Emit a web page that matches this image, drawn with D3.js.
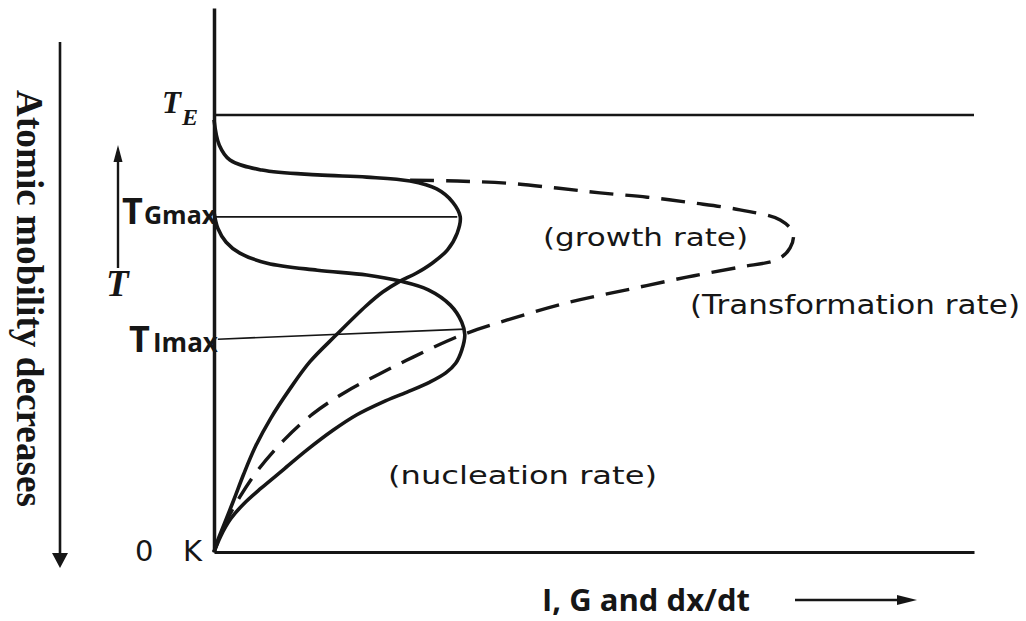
<!DOCTYPE html>
<html>
<head>
<meta charset="utf-8">
<script src="https://cdn.jsdelivr.net/npm/d3@7"></script>
<style>
  html, body { margin: 0; padding: 0; background: #fff; }
  svg { display: block; }
</style>
</head>
<body>
<svg id="chart" width="1026" height="621"></svg>
<script>
// Rates (arbitrary units, 0–100) against temperature (% of T_E, 0 K = 0)
const growthRate = [0, 0.7, 2.1, 6.3, 13.6, 20.1, 25.8, 29.3, 31.4, 32.4, 32.0, 30.7, 28.7, 26.6, 24.5, 22.2, 20.0, 16.1, 12.6, 9.9, 7.5, 5.5, 3.9, 2.6, 1.3, 0.5, 0];
const growthTemp = [98.9, 93.1, 89.7, 87.4, 86.3, 85.8, 84.9, 83.1, 80.1, 76.7, 73.0, 69.1, 66.1, 63.8, 62.0, 59.5, 56.3, 49.7, 43.5, 37.1, 30.7, 24.3, 17.8, 11.9, 6.2, 2.7, 0];

const nucleationRate = [0, 0.5, 1.6, 3.4, 7.0, 13.6, 20.1, 24.5, 28.2, 31.1, 32.6, 33.0, 32.6, 31.8, 30.5, 28.4, 25.4, 22.2, 18.8, 15.7, 12.2, 9.1, 6.2, 3.9, 2.2, 0.9, 0];
const nucleationTemp = [77.8, 74.1, 70.9, 68.4, 66.1, 64.5, 63.4, 62.0, 60.0, 56.5, 52.6, 49.7, 46.2, 43.2, 41.0, 38.9, 36.6, 34.3, 31.4, 27.9, 23.3, 18.8, 14.6, 11.0, 7.6, 3.7, 0];

const transformRate = [25.8, 32.0, 38.6, 45.1, 50.8, 57.0, 63.0, 69.2, 74.5, 76.2, 75.8, 74.2, 69.2, 62.2, 54.3, 46.4, 38.6, 33.3, 30.7, 26.2, 21.7, 17.1, 13.0, 9.2, 5.8, 3.4, 1.6, 0];
const transformTemp = [85.1, 84.9, 84.4, 83.3, 82.2, 81.2, 79.9, 78.3, 76.0, 73.0, 69.6, 67.0, 65.2, 62.9, 60.0, 57.0, 53.1, 50.1, 48.3, 44.6, 40.7, 36.4, 31.6, 25.6, 18.8, 12.6, 6.9, 0];

// Reference temperatures
const tEquilibrium = 100;
const tGmax = 76.7;
const tImaxRate = [0.5, 33.0];
const tImaxTemp = [48.7, 51.0];

// Curve labels
const curveLabels = ["(growth rate)", "(Transformation rate)", "(nucleation rate)"];

const ink = "#161616";
const svg = d3.select("#chart");

const x = d3.scaleLinear().domain([0, 100]).range([214, 974]);
const y = d3.scaleLinear().domain([0, 124.5]).range([552, 8]);

const zip = (a, b) => a.map((v, i) => [v, b[i]]);
const line = d3.line()
  .x(d => x(d[0]))
  .y(d => y(d[1]))
  .curve(d3.curveCatmullRom.alpha(0.5));

// Axes (no ticks, just the frame lines)
const xAxis = svg.append("g")
  .attr("transform", `translate(0,${y(0)})`)
  .call(d3.axisBottom(x).tickValues([]).tickSizeOuter(0));
const yAxis = svg.append("g")
  .attr("transform", `translate(${x(0)},0)`)
  .call(d3.axisLeft(y).tickValues([]).tickSizeOuter(0));
xAxis.select(".domain").attr("stroke", ink).attr("stroke-width", 3);
yAxis.select(".domain").attr("stroke", ink).attr("stroke-width", 3.5);

// T_E line
svg.append("line")
  .attr("x1", x(0)).attr("x2", x(100))
  .attr("y1", y(tEquilibrium)).attr("y2", y(tEquilibrium))
  .attr("stroke", ink).attr("stroke-width", 2.5);

// Thin reference lines to the maxima
svg.append("line")
  .attr("x1", x(0)).attr("x2", x(d3.max(growthRate)) - 3)
  .attr("y1", y(tGmax)).attr("y2", y(tGmax))
  .attr("stroke", ink).attr("stroke-width", 1.6);
svg.append("line")
  .attr("x1", x(tImaxRate[0])).attr("x2", x(tImaxRate[1]))
  .attr("y1", y(tImaxTemp[0])).attr("y2", y(tImaxTemp[1]))
  .attr("stroke", ink).attr("stroke-width", 1.6);

// Curves
svg.append("path")
  .attr("d", line(zip(growthRate, growthTemp)))
  .attr("fill", "none").attr("stroke", ink).attr("stroke-width", 3.6)
  .attr("stroke-linejoin", "round");
svg.append("path")
  .attr("d", line(zip(nucleationRate, nucleationTemp)))
  .attr("fill", "none").attr("stroke", ink).attr("stroke-width", 3.6)
  .attr("stroke-linejoin", "round");
svg.append("path")
  .attr("d", line(zip(transformRate, transformTemp)))
  .attr("fill", "none").attr("stroke", ink).attr("stroke-width", 3.4)
  .attr("stroke-dasharray", "24,12");

// Arrows
function arrow(x1, y1, x2, y2, head, half, width) {
  const ang = Math.atan2(y2 - y1, x2 - x1);
  const bx = x2 - head * Math.cos(ang), by = y2 - head * Math.sin(ang);
  svg.append("line")
    .attr("x1", x1).attr("y1", y1).attr("x2", bx).attr("y2", by)
    .attr("stroke", ink).attr("stroke-width", width);
  const px = -Math.sin(ang) * half, py = Math.cos(ang) * half;
  svg.append("path")
    .attr("d", `M${x2},${y2}L${bx + px},${by + py}L${bx - px},${by - py}Z`)
    .attr("fill", ink);
}
arrow(60, 42, 60, 568, 15, 8, 2.6);
arrow(118, 268, 118, 145, 17, 4.5, 2.4);
arrow(795, 600, 917, 600, 20, 5, 2.4);

// Text
const serif = "'Liberation Serif', 'Times New Roman', serif";
const sans = "'Open Sans', 'Noto Sans', sans-serif";
const plain = "'DejaVu Sans', sans-serif";

svg.append("text")
  .attr("transform", "translate(17,90) rotate(90)")
  .attr("font-family", serif).attr("font-weight", "bold")
  .attr("font-size", 38).attr("fill", ink)
  .attr("textLength", 417).attr("lengthAdjust", "spacingAndGlyphs")
  .text("Atomic mobility decreases");

const te = svg.append("text").attr("font-family", serif)
  .attr("font-style", "italic").attr("font-weight", "bold").attr("fill", ink);
te.append("tspan").attr("x", 162).attr("y", 113).attr("font-size", 31).text("T");
te.append("tspan").attr("x", 182).attr("y", 125).attr("font-size", 24).text("E");

svg.append("text")
  .attr("x", 106).attr("y", 296)
  .attr("font-family", serif).attr("font-style", "italic").attr("font-weight", "bold")
  .attr("font-size", 37).attr("fill", ink).text("T");

const tg = svg.append("text").attr("font-family", sans)
  .attr("font-weight", "bold").attr("fill", ink);
tg.append("tspan").attr("x", 122).attr("y", 224).attr("font-size", 36).text("T");
tg.append("tspan").attr("x", 144).attr("y", 224).attr("font-size", 25).text("Gmax");

const ti = svg.append("text").attr("font-family", sans)
  .attr("font-weight", "bold").attr("fill", ink);
ti.append("tspan").attr("x", 129).attr("y", 352).attr("font-size", 36).text("T");
ti.append("tspan").attr("x", 153).attr("y", 352).attr("font-size", 26).text("Imax");

svg.append("text")
  .attr("x", 135).attr("y", 561)
  .attr("font-family", plain).attr("font-size", 29).attr("fill", ink)
  .attr("textLength", 67).attr("lengthAdjust", "spacing")
  .text("0 K");

svg.append("text")
  .attr("x", 542).attr("y", 611)
  .attr("font-family", sans).attr("font-weight", "bold")
  .attr("font-size", 30).attr("fill", ink)
  .attr("textLength", 208).attr("lengthAdjust", "spacingAndGlyphs")
  .text("I, G and dx/dt");

const labelPos = [
  { x: 543, y: 246, w: 205, s: 24 },
  { x: 690, y: 314, w: 330, s: 26 },
  { x: 388, y: 484, w: 269, s: 25 }
];
curveLabels.forEach((t, i) => {
  const p = labelPos[i];
  svg.append("text")
    .attr("x", p.x).attr("y", p.y)
    .attr("font-family", plain).attr("font-size", p.s).attr("fill", ink)
    .attr("textLength", p.w).attr("lengthAdjust", "spacingAndGlyphs")
    .text(t);
});
</script>
</body>
</html>
